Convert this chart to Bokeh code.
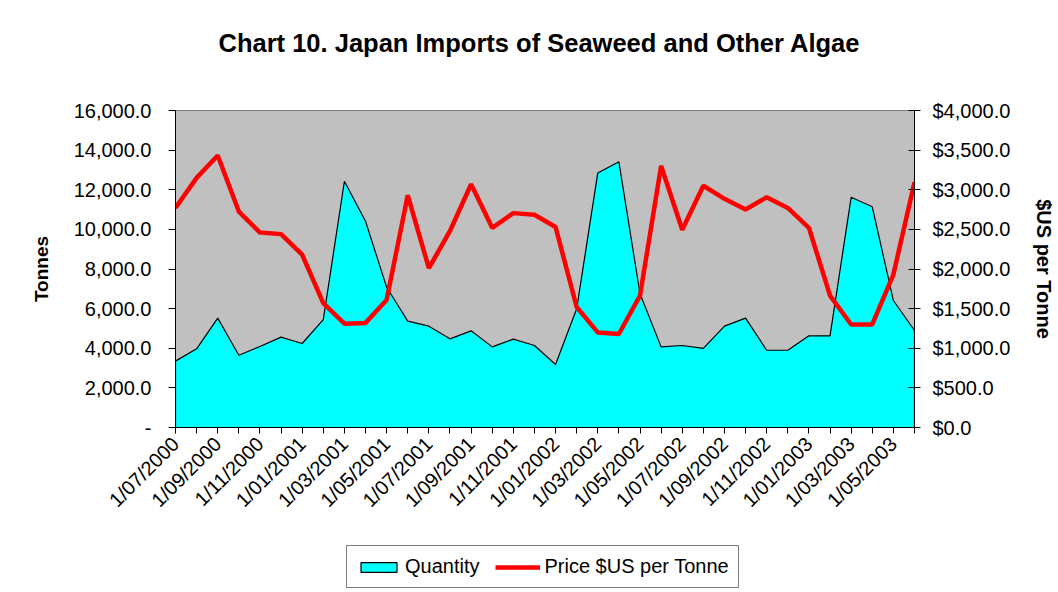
import math
from bokeh.plotting import figure
from bokeh.layouts import column
from bokeh.models import (Range1d, LinearAxis, NumeralTickFormatter, FixedTicker,
                          Legend, LegendItem)
from bokeh.embed import file_html
from bokeh.resources import INLINE

months = ["1/07/2000", "1/08/2000", "1/09/2000", "1/10/2000", "1/11/2000", "1/12/2000",
          "1/01/2001", "1/02/2001", "1/03/2001", "1/04/2001", "1/05/2001", "1/06/2001",
          "1/07/2001", "1/08/2001", "1/09/2001", "1/10/2001", "1/11/2001", "1/12/2001",
          "1/01/2002", "1/02/2002", "1/03/2002", "1/04/2002", "1/05/2002", "1/06/2002",
          "1/07/2002", "1/08/2002", "1/09/2002", "1/10/2002", "1/11/2002", "1/12/2002",
          "1/01/2003", "1/02/2003", "1/03/2003", "1/04/2003", "1/05/2003", "1/06/2003"]

quantity = [3350, 3970, 5520, 3650, 4090, 4560, 4240, 5450, 12430, 10410,
            7080, 5370, 5115, 4475, 4880, 4070, 4460, 4140, 3180, 5990,
            12850, 13410, 6750, 4070, 4140, 3990, 5115, 5520, 3900, 3900,
            4625, 4625, 11620, 11140, 6410, 4895]

price = [2770, 3150, 3432, 2725, 2460, 2440, 2180, 1570, 1310, 1320,
         1610, 2930, 2010, 2480, 3070, 2520, 2705, 2685, 2530, 1520,
         1200, 1180, 1665, 3300, 2495, 3050, 2885, 2750, 2905, 2770,
         2520, 1665, 1300, 1300, 1930, 3095]

TITLE = "Chart 10. Japan Imports of Seaweed and Other Algae"
FONT = "Liberation Sans"
CYAN = "#00FFFF"
RED = "#FF0000"

x = list(range(len(months)))
xs = [x[0]] + x + [x[-1]]
ys = [0] + quantity + [0]

W = 1058
TOP_H = 66

# ---- title strip ----
p0 = figure(width=W, height=TOP_H, title=TITLE,
            x_range=Range1d(0, 1), y_range=Range1d(0, 1),
            output_backend="svg", toolbar_location=None,
            x_axis_location=None, y_axis_location=None,
            min_border=0, min_border_top=61)
p0.outline_line_color = None
p0.xgrid.visible = False
p0.ygrid.visible = False
p0.background_fill_color = "white"
p0.border_fill_color = "white"
p0.title.align = "left"
p0.title.offset = 43
p0.title.standoff = 10
p0.title.text_font = FONT
p0.title.text_font_size = "25.5px"
p0.title.text_font_style = "bold"
p0.title.text_color = "black"

# ---- main chart ----
p = figure(width=W, height=545 - TOP_H, title=None,
           x_range=Range1d(0, len(months) - 1), y_range=Range1d(0, 16000),
           output_backend="svg", toolbar_location=None,
           min_border_left=175, min_border_right=W - 917,
           min_border_top=110 - TOP_H, min_border_bottom=118)

p.extra_y_ranges = {"price": Range1d(0, 4000)}

p.background_fill_color = "#C0C0C0"
p.border_fill_color = "white"
p.outline_line_color = "#808080"
p.xgrid.visible = False
p.ygrid.visible = False

area = p.patch(xs, ys, fill_color=CYAN, line_color="black", line_width=1.2)
pline = p.line(x, price, y_range_name="price", line_color=RED, line_width=4.5)

# x axis
xaxis = p.xaxis[0]
xaxis.ticker = FixedTicker(ticks=x)
xaxis.major_label_overrides = {i: (months[i] if i % 2 == 0 else "") for i in x}
xaxis.major_label_orientation = math.pi / 4
xaxis.major_label_text_font = FONT
xaxis.major_label_text_font_size = "20px"
xaxis.major_label_text_color = "black"
xaxis.major_tick_in = 0
xaxis.major_tick_out = 6
xaxis.minor_tick_line_color = None
xaxis.axis_line_color = "black"
xaxis.major_tick_line_color = "black"
xaxis.major_label_standoff = 7

# left axis
yaxis = p.yaxis[0]
yaxis.ticker = FixedTicker(ticks=[0, 2000, 4000, 6000, 8000, 10000, 12000, 14000, 16000])
yaxis.formatter = NumeralTickFormatter(format="0,0.0")
yaxis.major_label_overrides = {0: "-"}
yaxis.axis_label = "Tonnes"
yaxis.axis_label_text_font = FONT
yaxis.axis_label_text_font_size = "19px"
yaxis.axis_label_text_font_style = "bold"
yaxis.axis_label_text_color = "black"
yaxis.axis_label_standoff = 19
yaxis.major_label_text_font = FONT
yaxis.major_label_text_font_size = "20px"
yaxis.major_label_text_color = "black"
yaxis.major_tick_in = 0
yaxis.major_tick_out = 7
yaxis.minor_tick_line_color = None
yaxis.major_label_standoff = 17
yaxis.axis_line_color = "black"

# right axis
raxis = LinearAxis(y_range_name="price")
raxis.ticker = FixedTicker(ticks=[0, 500, 1000, 1500, 2000, 2500, 3000, 3500, 4000])
raxis.formatter = NumeralTickFormatter(format="$0,0.0")
raxis.axis_label = "$US per Tonne"
raxis.axis_label_text_font = FONT
raxis.axis_label_text_font_size = "20px"
raxis.axis_label_text_font_style = "bold"
raxis.axis_label_text_color = "black"
raxis.axis_label_standoff = 20
raxis.major_label_text_font = FONT
raxis.major_label_text_font_size = "20px"
raxis.major_label_text_color = "black"
raxis.major_tick_in = 6
raxis.major_tick_out = 6
raxis.minor_tick_line_color = None
raxis.major_label_standoff = 12
raxis.axis_line_color = "black"
p.add_layout(raxis, "right")

# ---- legend strip ----
# proxy renderers use the same data but lie outside this strip's visible range
p2 = figure(width=W, height=45, title=None,
            x_range=Range1d(1000, 1001), y_range=Range1d(-1000, -999),
            output_backend="svg", toolbar_location=None,
            x_axis_location=None, y_axis_location=None, min_border=0)
p2.outline_line_color = None
p2.xgrid.visible = False
p2.ygrid.visible = False
p2.background_fill_color = "white"
p2.border_fill_color = "white"
la = p2.patch(xs, ys, fill_color=CYAN, line_color="black", line_width=1.2)
ll = p2.line(x, price, line_color=RED, line_width=4.5)

legend = Legend(items=[LegendItem(label="Quantity", renderers=[la]),
                       LegendItem(label="Price $US per Tonne", renderers=[ll])],
                orientation="horizontal", location=(171, 2))
legend.label_text_font = FONT
legend.label_text_font_size = "20px"
legend.label_text_color = "black"
legend.label_height = 21
legend.glyph_width = 45
legend.glyph_height = 12
legend.label_standoff = 4
legend.spacing = 16
legend.padding = 9
legend.margin = 0
legend.border_line_color = "black"
legend.border_line_width = 1
legend.background_fill_color = "white"
legend.background_fill_alpha = 1.0
p2.add_layout(legend)

layout = column(p0, p, p2)
open("out.html", "w").write(file_html(layout, INLINE))
